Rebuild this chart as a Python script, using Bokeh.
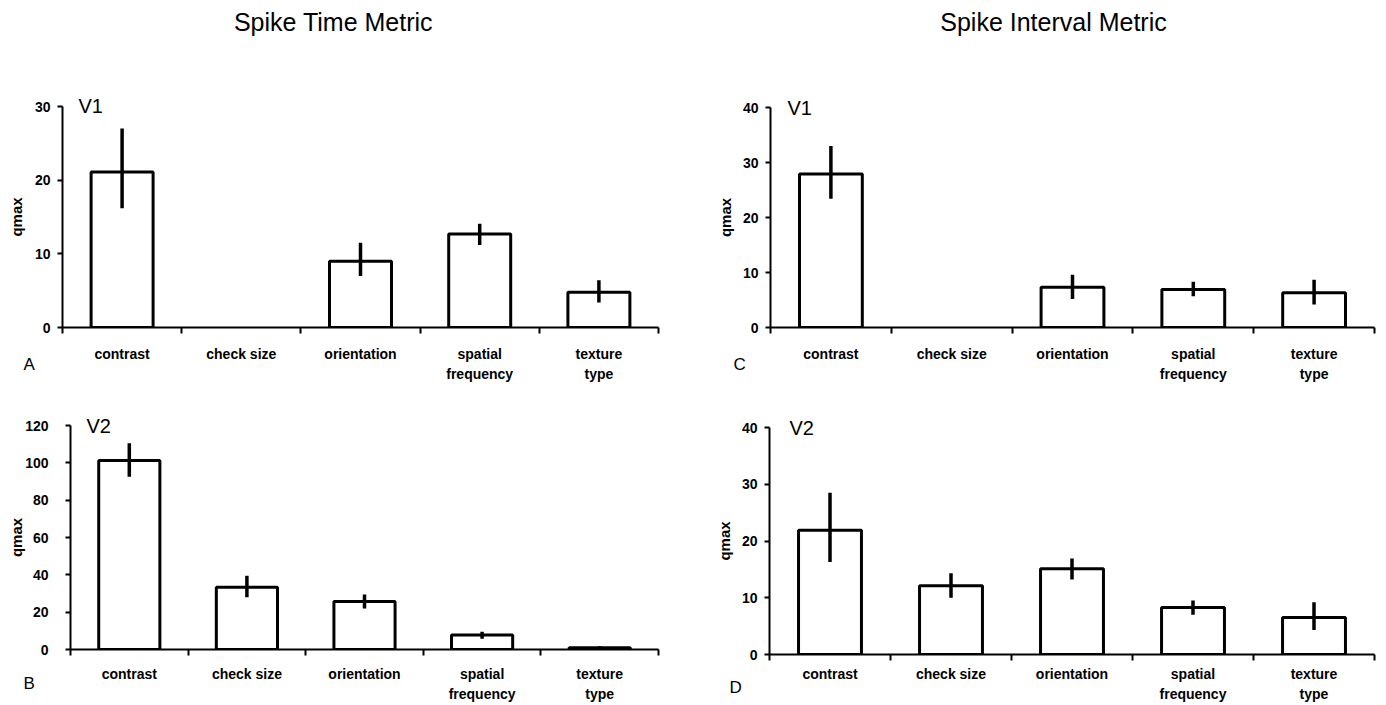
from bokeh.plotting import figure
from bokeh.models import FixedTicker, Range1d, GridBox, Column
from bokeh.core.properties import value
from bokeh.embed import file_html
from bokeh.resources import INLINE

FONT = "Liberation Sans"

categories = ["contrast", "check size", "orientation", "spatial\nfrequency", "texture\ntype"]

# Panel A: Spike Time Metric, V1
a_vals = [21.1, 0.0, 9.0, 12.7, 4.8]
a_lo = [16.2, 0.0, 7.0, 11.2, 3.4]
a_hi = [27.0, 0.0, 11.5, 14.1, 6.4]
# Panel B: Spike Time Metric, V2
b_vals = [101.3, 33.4, 25.7, 7.8, 1.0]
b_lo = [92.5, 28.0, 22.0, 5.8, 0.3]
b_hi = [110.5, 39.5, 29.5, 9.5, 1.8]
# Panel C: Spike Interval Metric, V1
c_vals = [27.9, 0.0, 7.3, 6.9, 6.3]
c_lo = [23.4, 0.0, 5.2, 5.7, 4.2]
c_hi = [33.0, 0.0, 9.6, 8.3, 8.7]
# Panel D: Spike Interval Metric, V2
d_vals = [21.9, 12.1, 15.1, 8.3, 6.5]
d_lo = [16.3, 10.0, 13.2, 7.0, 4.3]
d_hi = [28.5, 14.3, 16.9, 9.5, 9.2]

a_yticks = [0, 10, 20, 30]
b_yticks = [0, 20, 40, 60, 80, 100, 120]
c_yticks = [0, 10, 20, 30, 40]
d_yticks = [0, 10, 20, 30, 40]

column_titles = ["Spike Time Metric", "Spike Interval Metric"]
panel_letters = ["A", "B", "C", "D"]
area_labels = ["V1", "V2", "V1", "V2"]


def panel(vals, lo, hi, yticks, origin, frame, size, ystand, alstand, xstand):
    ox, oy = origin
    L, R, T, B = frame
    w, h = size
    ymax = yticks[-1]
    p = figure(width=w, height=h, output_backend="svg", toolbar_location=None,
               x_range=Range1d(0, len(categories)), y_range=Range1d(0, ymax),
               min_border_left=L - ox, min_border_right=ox + w - R,
               min_border_top=T - oy, min_border_bottom=oy + h - B)
    p.outline_line_color = None
    p.grid.visible = False
    p.background_fill_color = "white"
    p.border_fill_color = "white"

    xs = [i + 0.5 for i in range(len(categories))]
    bx = [x for x, v in zip(xs, vals) if v > 0]
    bv = [v for v in vals if v > 0]
    p.vbar(x=bx, top=bv, bottom=0, width=0.52, fill_color="white",
           line_color="black", line_width=3)
    p.segment(x0=xs, x1=xs, y0=lo, y1=hi, line_color="black", line_width=3.5)

    xa = p.xaxis[0]
    xa.ticker = FixedTicker(ticks=xs, minor_ticks=list(range(len(categories) + 1)))
    xa.major_label_overrides = {x: c for x, c in zip(xs, categories)}
    xa.major_tick_out = 0
    xa.major_tick_in = 0
    xa.minor_tick_out = 6
    xa.minor_tick_in = 0
    xa.minor_tick_line_width = 2
    xa.axis_line_width = 2
    xa.major_label_standoff = xstand
    xa.major_label_text_font = FONT
    xa.major_label_text_font_style = "bold"
    xa.major_label_text_font_size = "14px"
    xa.major_label_text_line_height = 1.3
    xa.major_label_text_color = "black"

    ya = p.yaxis[0]
    ya.ticker = FixedTicker(ticks=yticks, minor_ticks=[])
    ya.major_tick_out = 5
    ya.major_tick_in = 0
    ya.major_tick_line_width = 2
    ya.axis_line_width = 2
    ya.major_label_standoff = ystand
    ya.major_label_text_font = FONT
    ya.major_label_text_font_style = "bold"
    ya.major_label_text_font_size = "14px"
    ya.major_label_text_color = "black"
    ya.axis_label = "qmax"
    ya.axis_label_standoff = alstand
    ya.axis_label_text_font = FONT
    ya.axis_label_text_font_style = "bold"
    ya.axis_label_text_font_size = "15px"
    ya.axis_label_text_color = "black"
    return p


pA = panel(a_vals, a_lo, a_hi, a_yticks, (0, 0), (62, 658, 106, 327), (693, 385), 7, 7, 12)
pC = panel(c_vals, c_lo, c_hi, c_yticks, (693, 0), (770, 1374, 107, 329), (693, 385), 7, 6, 12)
pB = panel(b_vals, b_lo, b_hi, b_yticks, (0, 385), (70, 658, 425, 649), (693, 320), 17, -3, 10)
pD = panel(d_vals, d_lo, d_hi, d_yticks, (693, 385), (769, 1374, 427, 654), (693, 320), 7, 6, 5)

# transparent overlay for the free-standing texts (page pixel coordinates)
ov = figure(width=1386, height=705, output_backend="svg", toolbar_location=None,
            x_range=Range1d(0, 1386), y_range=Range1d(705, 0),
            min_border=0, min_border_left=0, min_border_right=0,
            min_border_top=0, min_border_bottom=0)
ov.axis.visible = False
ov.grid.visible = False
ov.outline_line_color = None
ov.background_fill_color = None
ov.border_fill_color = None
ov.background_fill_alpha = 0
ov.border_fill_alpha = 0

ov.text(x=[333, 1053], y=[21, 21], text=column_titles, text_font=value(FONT),
        text_font_size="25px", text_align="center", text_baseline="middle",
        text_color="black")
ov.text(x=[23, 23, 733, 729], y=[364, 683, 364, 687], text=panel_letters,
        text_font=value(FONT), text_font_size="17px", text_align="left",
        text_baseline="middle", text_color="black")
ov.text(x=[78, 86, 787, 789], y=[105, 425, 107, 427], text=area_labels,
        text_font=value(FONT), text_font_size="20px", text_align="left",
        text_baseline="middle", text_color="black")


def wrap(p):
    return Column(children=[p], spacing=0)


grid = GridBox(children=[(wrap(pA), 0, 0), (wrap(pC), 0, 1), (wrap(pB), 1, 0),
                         (wrap(pD), 1, 1), (wrap(ov), 0, 0, 2, 2)],
               spacing=0)
open("out.html", "w").write(file_html(grid, INLINE))
